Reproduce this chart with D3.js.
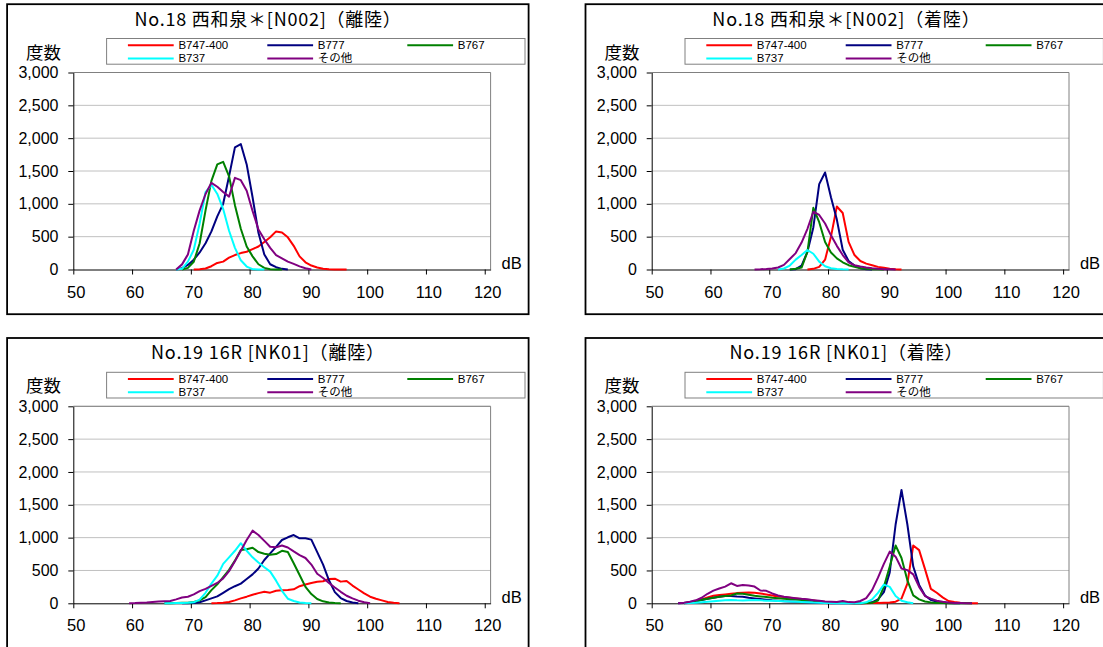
<!DOCTYPE html>
<html><head><meta charset="utf-8">
<script src="https://cdn.jsdelivr.net/npm/d3@7"></script>
<style>
body{margin:0;background:#fff;}
svg{display:block;font-family:"Noto Sans CJK JP","Noto Sans",sans-serif;}
</style>
</head><body>
<svg id="c" width="1103" height="647"></svg>
<script>
// ---------- data ----------
const seriesNames = ["B747-400", "B777", "B767", "B737", "その他"];
const seriesColors = ["#FF0000", "#000080", "#008000", "#00FFFF", "#800080"];
const xTicks = [50, 60, 70, 80, 90, 100, 110, 120];
const yTicks = [0, 500, 1000, 1500, 2000, 2500, 3000];
const titles = [
  "No.18 西和泉＊[N002]（離陸）",
  "No.18 西和泉＊[N002]（着陸）",
  "No.19 16R [NK01]（離陸）",
  "No.19 16R [NK01]（着陸）"
];
const yLabel = "度数";
const xUnit = "dB";

// first dB class of each series, order: B747-400, B777, B767, B737, その他
const n18DepStart = [70, 67, 68, 67, 67];
const n18Dep_B747 = [0,5,15,50,100,120,180,220,250,270,310,350,420,490,580,565,490,360,200,110,60,30,10,3,1,0,0];
const n18Dep_B777 = [0,20,70,150,260,400,580,810,1000,1420,1860,1910,1600,1100,560,230,80,35,10,0];
const n18Dep_B767 = [0,25,117,400,900,1350,1600,1640,1420,980,620,350,200,80,25,5,1,0];
const n18Dep_B737 = [0,10,120,300,700,1180,1290,1150,920,590,330,140,45,5,0,0];
const n18Dep_other = [0,78,230,590,900,1150,1320,1260,1180,1110,1396,1360,1200,890,610,460,330,220,170,120,85,48,20,0];

const n18ArrStart = [76, 73, 73, 71, 67];
const n18Arr_B747 = [0,10,40,150,500,960,860,420,220,130,90,65,40,25,12,5,0];
const n18Arr_B777 = [0,5,60,270,640,1300,1477,1100,760,300,130,60,20,5,0];
const n18Arr_B767 = [0,10,30,270,940,720,420,260,170,110,66,40,20,10,5,2,0];
const n18Arr_B737 = [0,15,60,150,220,297,240,120,50,20,8,3,0];
const n18Arr_other = [0,3,8,15,30,70,160,250,410,620,880,830,700,520,360,220,110,65,45,30,18,10,5,2,0];

const n19DepStart = [73, 68, 65, 65, 59];
const n19Dep_B747 = [0,3,8,20,45,75,101,130,155,175,162,190,200,203,213,260,285,310,329,335,370,375,330,340,270,210,150,100,70,45,20,8,0];
const n19Dep_B777 = [0,2,5,15,45,75,105,160,215,260,300,370,440,530,660,760,860,964,1005,1040,990,990,970,780,590,350,170,80,35,12,0];
const n19Dep_B767 = [0,2,5,8,10,20,45,95,200,290,400,510,650,812,822,847,780,755,740,750,800,780,610,430,250,140,65,30,12,5,0];
const n19Dep_B737 = [0,2,3,5,8,15,55,160,300,420,600,700,800,915,800,700,620,550,482,345,190,70,35,12,4,0];
const n19Dep_other = [0,3,8,12,20,28,33,36,60,88,100,135,185,220,265,310,380,490,640,800,964,1106,1040,950,860,852,880,850,790,735,690,590,450,385,310,240,175,115,75,40,15,0];

const n19ArrStart = [55, 54, 55, 55, 54];
const n19Arr_B747 = [0,10,30,60,90,115,125,135,145,155,160,165,160,150,135,120,105,95,85,75,62,52,42,30,20,12,8,5,3,2,2,2,3,5,8,12,25,70,300,880,810,520,220,160,90,35,20,10,5,2,0];
const n19Arr_B777 = [0,5,15,30,50,70,85,100,110,112,105,100,85,75,65,55,45,38,32,28,24,20,16,12,8,4,2,1,0,0,0,2,5,15,60,170,470,1200,1726,1200,560,280,120,50,25,12,5,1,0];
const n19Arr_B767 = [0,15,35,55,70,85,100,110,120,150,145,130,115,105,95,85,78,70,62,58,52,48,38,28,18,12,8,5,3,2,2,3,8,40,250,560,880,690,350,120,60,28,14,6,3,1,0,0,0,0];
const n19Arr_B737 = [0,3,8,15,22,30,38,45,50,45,42,48,50,45,40,38,35,32,28,24,20,16,12,10,6,3,1,0,0,0,0,15,60,160,285,250,110,40,15,0];
const n19Arr_other = [0,8,25,45,85,145,193,225,254,305,264,279,272,255,195,190,150,120,100,88,78,68,60,48,38,28,25,20,35,18,15,35,80,200,390,600,787,710,530,505,440,250,110,70,40,22,12,6,3,1,0];

// ---------- drawing ----------
const panels = [
  { title: titles[0], titleW: 267, starts: n18DepStart, series: [n18Dep_B747, n18Dep_B777, n18Dep_B767, n18Dep_B737, n18Dep_other] },
  { title: titles[1], titleW: 268, starts: n18ArrStart, series: [n18Arr_B747, n18Arr_B777, n18Arr_B767, n18Arr_B737, n18Arr_other] },
  { title: titles[2], titleW: 234, starts: n19DepStart, series: [n19Dep_B747, n19Dep_B777, n19Dep_B767, n19Dep_B737, n19Dep_other] },
  { title: titles[3], titleW: 234, starts: n19ArrStart, series: [n19Arr_B747, n19Arr_B777, n19Arr_B767, n19Arr_B737, n19Arr_other] }
];

const svg = d3.select("#c");
const colOffset = 578.4, rowOffset = 333.8;
const plotL = 73.3, plotR = 490.6, plotT = 72.5, plotB = 269.5;
const numFont = "'Liberation Sans',Arial,sans-serif";

panels.forEach((p, i) => {
  const g = svg.append("g")
    .attr("transform", `translate(${(i % 2) * colOffset},${Math.floor(i / 2) * rowOffset})`);

  // chart border
  g.append("rect").attr("x", 7.1).attr("y", 4.2).attr("width", 521.5).attr("height", 310)
    .attr("fill", "#fff").attr("stroke", "#000").attr("stroke-width", 1.8);

  const x = d3.scaleLinear().domain([50, 121]).range([plotL, plotR]);
  const y = d3.scaleLinear().domain([0, 3000]).range([plotB, plotT]);

  // title (spread to the reference width)
  const t = g.append("text").attr("x", 268).attr("y", 17.5).attr("text-anchor", "middle")
    .attr("dominant-baseline", "central").attr("font-size", 18).attr("fill", "#000")
    .text(p.title);
  const tl = t.node().getComputedTextLength();
  const n = [...p.title].length;
  if (tl < p.titleW) t.attr("letter-spacing", ((p.titleW - tl) / n).toFixed(2));

  // legend
  g.append("rect").attr("x", 106.6).attr("y", 38.5).attr("width", 418.4).attr("height", 25.7)
    .attr("fill", "#fff").attr("stroke", "#808080").attr("stroke-width", 1);
  const legPos = [[127.9, 45.2], [267.3, 45.2], [407.3, 45.2], [127.9, 58.4], [267.3, 58.4]];
  seriesNames.forEach((name, k) => {
    const [lx, ly] = legPos[k];
    g.append("line").attr("x1", lx).attr("x2", lx + 45.8).attr("y1", ly).attr("y2", ly)
      .attr("stroke", seriesColors[k]).attr("stroke-width", 2);
    g.append("text").attr("x", lx + 50.5).attr("y", ly).attr("dominant-baseline", "central")
      .attr("font-size", 11.5).attr("font-family", "'Liberation Sans','Noto Sans CJK JP',sans-serif")
      .attr("fill", "#000").text(name);
  });

  // y label
  g.append("text").attr("x", 26).attr("y", 51).attr("dominant-baseline", "central")
    .attr("font-size", 17.5).attr("fill", "#000").text(yLabel);

  // gridlines
  g.selectAll(".grid").data(yTicks.filter(t => t > 0)).join("line")
    .attr("x1", plotL).attr("x2", plotR).attr("y1", d => y(d)).attr("y2", d => y(d))
    .attr("stroke", "#c0c0c0").attr("stroke-width", 1);

  // plot area border (top/right)
  g.append("path").attr("d", `M${plotL},${plotT}H${plotR}V${plotB}`)
    .attr("fill", "none").attr("stroke", "#808080").attr("stroke-width", 1);

  // axes
  const yAxis = g.append("g").attr("transform", `translate(${plotL},0)`)
    .call(d3.axisLeft(y).tickValues(yTicks).tickFormat(d3.format(",")).tickSize(5).tickSizeOuter(0).tickPadding(9.8));
  yAxis.attr("font-family", numFont);
  yAxis.selectAll("text").attr("font-size", 16).attr("fill", "#000");
  yAxis.selectAll("line").attr("stroke", "#000");
  yAxis.select(".domain").attr("stroke", "#000");

  const xAxis = g.append("g").attr("transform", `translate(0,${plotB})`)
    .call(d3.axisBottom(x).tickValues(xTicks).tickFormat("").tickSize(5).tickSizeOuter(0));
  xAxis.selectAll("line").attr("stroke", "#000");
  xAxis.select(".domain").attr("stroke", "#000");
  g.selectAll(".xlab").data(xTicks).join("text")
    .attr("x", d => x(d + 0.5)).attr("y", 291.7).attr("text-anchor", "middle")
    .attr("dominant-baseline", "central").attr("font-size", 16.5).attr("font-family", numFont)
    .attr("fill", "#000").text(d => d);

  // unit
  g.append("text").attr("x", 501.5).attr("y", 263).attr("dominant-baseline", "central")
    .attr("font-size", 16.5).attr("font-family", numFont).attr("fill", "#000").text(xUnit);

  // series
  const line = d3.line().x(d => x(d.c + 0.5)).y(d => y(d.v));
  p.series.forEach((vals, k) => {
    const pts = vals.map((v, j) => ({ c: p.starts[k] + j, v }));
    g.append("path").datum(pts).attr("d", line)
      .attr("fill", "none").attr("stroke", seriesColors[k]).attr("stroke-width", 2)
      .attr("stroke-linejoin", "round").attr("stroke-linecap", "butt");
  });
});
</script>
</body></html>
